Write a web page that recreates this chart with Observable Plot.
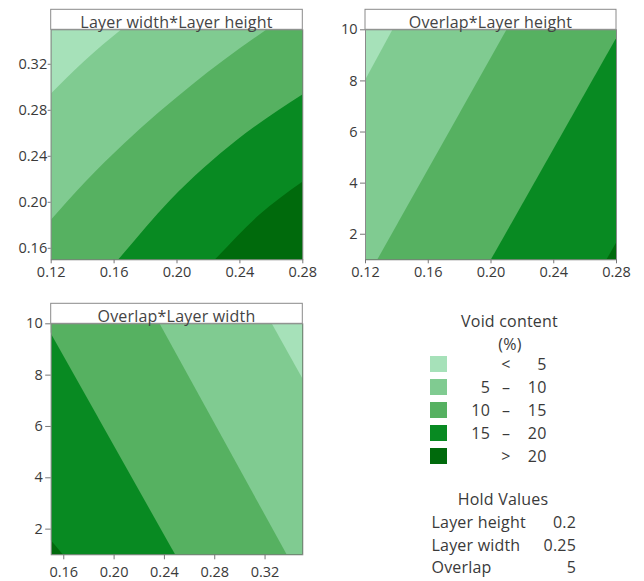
<!DOCTYPE html>
<html><head><meta charset="utf-8">
<script src="https://cdn.jsdelivr.net/npm/d3@7"></script>
<script src="https://cdn.jsdelivr.net/npm/@observablehq/plot@0.6"></script>
<style>
body{margin:0;background:#fff;font-family:"Open Sans",sans-serif;}
#wrap{position:relative;width:644px;height:581px;overflow:hidden;background:#fff;}
.panel{position:absolute;}
.lg{position:absolute;font-size:16px;letter-spacing:0.2px;color:#3a3a3a;white-space:nowrap;line-height:1;}
.sw{position:absolute;width:17px;height:16px;}
</style></head><body><div id="wrap"></div>
<script>
// ---- legend / colour classes (Void content, %) ----
const levelLo = ["", "5", "10", "15", ""];
const levelMid = ["<", "–", "–", "–", ">"];
const levelHi = ["5", "10", "15", "20", "20"];
const colors = ["#a6e1b9", "#80cb91", "#56b161", "#088a22", "#006a0c"];

// ---- hold values ----
const holdNames = ["Layer height", "Layer width", "Overlap"];
const holdVals = ["0.2", "0.25", "5"];

// ---- panel titles ----
const titles = ["Layer width*Layer height", "Overlap*Layer height", "Overlap*Layer width"];

// ---- Panel 1: x = Layer width, y = Layer height; contour boundaries [x, y] ----
const p1x = [0.12, 0.28], p1y = [0.15, 0.35];
const p1xTicks = [0.12, 0.16, 0.20, 0.24, 0.28];
const p1yTicks = [0.16, 0.20, 0.24, 0.28, 0.32];
const p1b20 = [[0.12, -0.01], [0.17, 0.07], [0.2245, 0.15], [0.252, 0.188], [0.28, 0.2174]];
const p1b15 = [[0.12, 0.083], [0.163, 0.15], [0.196, 0.2015], [0.2383, 0.2537], [0.28, 0.2934]];
const p1b10 = [[0.12, 0.1841], [0.142, 0.2175], [0.1666, 0.2508], [0.21, 0.302], [0.2575, 0.35], [0.28, 0.37]];
const p1b5 = [[0.12, 0.294], [0.141, 0.322], [0.165, 0.35], [0.18, 0.366]];

// ---- Panel 2: x = Layer height, y = Overlap ----
const p2x = [0.12, 0.28], p2y = [1, 10];
const p2xTicks = [0.12, 0.16, 0.20, 0.24, 0.28];
const p2yTicks = [2, 4, 6, 8, 10];
const p2b20 = [[0.274, 1], [0.28, 1.65], [0.28, 10]];
const p2b15 = [[0.2003, 1], [0.2832, 10]];
const p2b10 = [[0.1279, 1], [0.2103, 10]];
const p2b5 = [[0.12, 8.02], [0.1376, 10]];

// ---- Panel 3: x = Layer width, y = Overlap ----
const p3x = [0.15, 0.35], p3y = [1, 10];
const p3xTicks = [0.16, 0.20, 0.24, 0.28, 0.32];
const p3yTicks = [2, 4, 6, 8, 10];
const p3b20 = [[0.1595, 1], [0.15, 1.56], [0.15, 10]];
const p3b15 = [[0.2488, 1], [0.1455, 10]];
const p3b10 = [[0.3375, 1], [0.2364, 10]];
const p3b5 = [[0.35, 7.86], [0.3256, 10]];

const wrap = document.getElementById("wrap");
const FONT = "'Open Sans', sans-serif";
const TXT = "#3a3a3a";

function addHeader(svg, m, w, title) {
  const g = d3.select(svg).append("g");
  g.append("rect").attr("x", m.left).attr("y", m.top - 20).attr("width", w - m.left - m.right)
    .attr("height", 20).attr("fill", "#fff").attr("stroke", "#8a8a8a");
  g.append("text").attr("x", (m.left + w - m.right) / 2).attr("y", m.top - 1.5)
    .attr("text-anchor", "middle").attr("font-size", 16).attr("letter-spacing", 0.2).attr("font-family", FONT)
    .attr("fill", "#444").text(title);
}

function panel({left, top, w, h, m, xd, yd, xt, yt, marks, title, xfmt, yfmt, xPad, yPad, xTick, yTick}) {
  const svg = Plot.plot({
    width: w, height: h,
    marginLeft: m.left, marginRight: m.right, marginTop: m.top, marginBottom: m.bottom,
    style: {fontSize: "14.5px", fontFamily: FONT, color: TXT, background: "transparent", overflow: "visible"},
    x: {domain: xd}, y: {domain: yd},
    marks: [
      Plot.frame({fill: colors[4], stroke: "none"}),
      ...marks,
      Plot.frame({stroke: "#8a8a8a"}),
      Plot.axisX(xt, {tickFormat: xfmt, tickSize: xTick, tickPadding: xPad, label: null, stroke: "#777", fill: TXT}),
      Plot.axisY(yt, {tickFormat: yfmt, tickSize: yTick, tickPadding: yPad, label: null, stroke: "#777", fill: TXT})
    ]
  });
  addHeader(svg, m, w, title);
  svg.classList.add("panel");
  svg.style.left = left + "px";
  svg.style.top = top + "px";
  wrap.appendChild(svg);
}

const f2 = d3.format(".2f");
const fi = d3.format("d");

// Panel 1: areas above each boundary, light over dark
const p1bounds = [p1b20, p1b15, p1b10, p1b5];
panel({
  left: 0, top: 0, w: 320, h: 290,
  m: {left: 50.7, right: 17.7, top: 29.3, bottom: 30.7},
  xd: p1x, yd: p1y, xt: p1xTicks, yt: p1yTicks, title: titles[0],
  xfmt: f2, yfmt: f2, xPad: 3, yPad: 1, xTick: 4, yTick: 3,
  marks: p1bounds.map((b, i) => Plot.areaY(b, {x: d => d[0], y1: d => d[1], y2: 0.4, fill: colors[3 - i], curve: "monotone-x", clip: true}))
});

// Panel 2: areas left of each boundary
const p2bounds = [p2b20, p2b15, p2b10, p2b5];
panel({
  left: 320, top: 0, w: 324, h: 290,
  m: {left: 45, right: 28, top: 29.3, bottom: 30.7},
  xd: p2x, yd: p2y, xt: p2xTicks, yt: p2yTicks, title: titles[1],
  xfmt: f2, yfmt: fi, xPad: 3, yPad: 3, xTick: 4, yTick: 5,
  marks: p2bounds.map((b, i) => Plot.areaX(b, {y: d => d[1], x1: p2x[0], x2: d => d[0], fill: colors[3 - i], clip: true}))
});

// Panel 3: areas right of each boundary
const p3bounds = [p3b20, p3b15, p3b10, p3b5];
panel({
  left: 0, top: 294, w: 320, h: 287,
  m: {left: 50.7, right: 17.7, top: 29.3, bottom: 26.7},
  xd: p3x, yd: p3y, xt: p3xTicks, yt: p3yTicks, title: titles[2],
  xfmt: f2, yfmt: fi, xPad: 7, yPad: 3, xTick: 5, yTick: 5.5,
  marks: p3bounds.map((b, i) => Plot.areaX(b, {y: d => d[1], x1: d => d[0], x2: p3x[1], fill: colors[3 - i], clip: true}))
});

// ---- Legend (HTML) ----
function txt(s, x, y, anchor) {
  const d = document.createElement("div");
  d.className = "lg";
  d.textContent = s;
  d.style.top = (y - 8) + "px";
  if (anchor === "end") { d.style.right = (644 - x) + "px"; }
  else if (anchor === "middle") { d.style.left = x + "px"; d.style.transform = "translateX(-50%)"; }
  else { d.style.left = x + "px"; }
  wrap.appendChild(d);
}
txt("Void content", 509.5, 321, "middle");
txt("(%)", 510, 343.5, "middle");
const rowY = [364, 387, 410, 433, 455.5];
colors.forEach((c, i) => {
  const s = document.createElement("div");
  s.className = "sw";
  s.style.left = "429.5px";
  s.style.top = (rowY[i] - 8) + "px";
  s.style.background = c;
  wrap.appendChild(s);
  if (levelLo[i]) txt(levelLo[i], 490, rowY[i], "end");
  txt(levelMid[i], 506, rowY[i], "middle");
  txt(levelHi[i], 546.5, rowY[i], "end");
});
txt("Hold Values", 503, 499, "middle");
const holdY = [522, 545, 567];
holdNames.forEach((n, i) => {
  txt(n, 431.5, holdY[i], "start");
  txt(holdVals[i], 576, holdY[i], "end");
});
</script></body></html>
